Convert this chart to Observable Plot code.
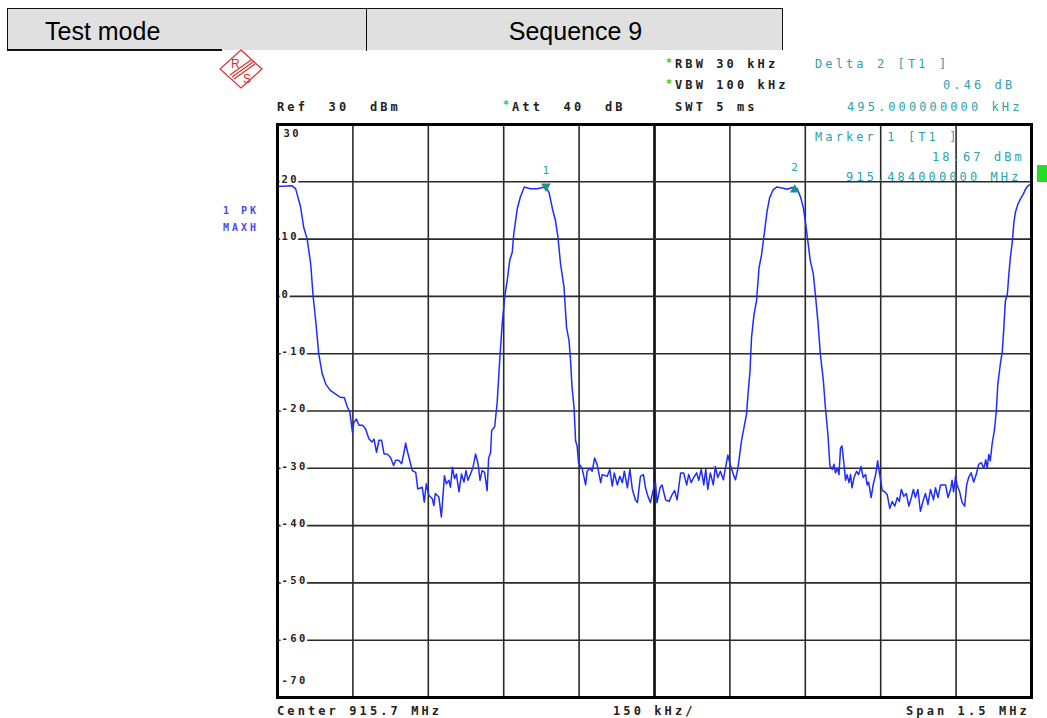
<!DOCTYPE html>
<html>
<head>
<meta charset="utf-8">
<script src="https://cdn.jsdelivr.net/npm/d3@7"></script>
<script src="https://cdn.jsdelivr.net/npm/@observablehq/plot@0.6"></script>
<style>
  html, body { margin: 0; padding: 0; background: #fff; }
  #page { position: relative; width: 1047px; height: 718px; overflow: hidden; }
  #chart { position: absolute; left: 0; top: 0; }
  .chart text { letter-spacing: 2.4px; }
  .mono { position: absolute; font-family: "DejaVu Sans Mono", "Liberation Mono", monospace; font-weight: bold;
          font-size: 12px; line-height: 12px; letter-spacing: 3.1px; white-space: pre; color: #222; }
  .teal { color: #30a2a8; font-weight: normal; }
  .star { color: #22cc22; font-size: 10px; }
  .side { color: #4a4ae8; font-size: 10px; letter-spacing: 3px; }
  #hdr { position: absolute; left: 7px; top: 8px; width: 776px; height: 42px; background: #e0e0e0;
         border-top: 1.5px solid #111; border-left: 1.5px solid #111; border-right: 1.5px solid #111; box-sizing: border-box; }
  #hdr .c { position: absolute; top: 0; height: 41px; font-family: "Liberation Sans", Arial, sans-serif; font-size: 25px;
            line-height: 44px; color: #000; }
  #hdrline { position: absolute; left: 7px; top: 49px; width: 215px; height: 0; border-top: 2px solid #111; }
  #hdrdiv { position: absolute; left: 366px; top: 8px; width: 0; height: 43px; border-left: 1.5px solid #111; }
  #gbox { position: absolute; left: 1037px; top: 165px; width: 12px; height: 17px; background: #22dd22; }
</style>
</head>
<body>
<div id="page">
  <div id="chart"></div>
  <div id="hdr">
    <div class="c" style="left:37px;">Test mode</div>
    <div class="c" style="left:359px;width:417px;text-align:center;">Sequence 9</div>
  </div>
  <div id="hdrline"></div>
  <div id="hdrdiv"></div>
  <svg style="position:absolute;left:218px;top:48px" width="46" height="42" viewBox="0 0 46 42">
    <g stroke="#d83030" fill="none" stroke-width="1.2">
      <polygon points="23,2 44,21 23,40 2,21"/>
      <line x1="12" y1="27" x2="33" y2="12"/>
      <line x1="14" y1="29" x2="35" y2="14"/>
      <line x1="16" y1="31" x2="37" y2="16"/>
    </g>
    <text x="13" y="20" font-family="Liberation Sans" font-size="12" fill="#d83030">R</text>
    <text x="25" y="35" font-family="Liberation Sans" font-size="12" fill="#d83030">S</text>
  </svg>

  <div class="mono" style="left:277px;top:101px;">Ref  30  dBm</div>
  <div class="mono star" style="left:503px;top:99px;">*</div>
  <div class="mono" style="left:512px;top:101px;">Att  40  dB</div>

  <div class="mono star" style="left:666px;top:57px;">*</div>
  <div class="mono" style="left:675px;top:58px;">RBW 30 kHz</div>
  <div class="mono star" style="left:666px;top:78px;">*</div>
  <div class="mono" style="left:675px;top:79px;">VBW 100 kHz</div>
  <div class="mono" style="left:675px;top:101px;">SWT 5 ms</div>

  <div class="mono teal" style="left:815px;top:58px;">Delta 2 [T1 ]</div>
  <div class="mono teal" style="left:943px;top:79px;">0.46 dB</div>
  <div class="mono teal" style="left:847px;top:101px;">495.000000000 kHz</div>

  <div class="mono teal" style="left:815px;top:131px;">Marker 1 [T1 ]</div>
  <div class="mono teal" style="left:932px;top:151px;">18.67 dBm</div>
  <div class="mono teal" style="left:846px;top:171px;">915.484000000 MHz</div>
  <div id="gbox"></div>

  <div class="mono side" style="left:223px;top:205px;">1 PK</div>
  <div class="mono side" style="left:223px;top:222px;">MAXH</div>

  <div class="mono" style="left:277px;top:705px;">Center 915.7 MHz</div>
  <div class="mono" style="left:613px;top:705px;">150 kHz/</div>
  <div class="mono" style="left:906px;top:705px;">Span 1.5 MHz</div>
</div>
<script>
// Sweep settings
const startMHz = 914.95;
const spanMHz = 1.5;
const divKHz = 150;

// Trace 1 (PK, MAXH): frequency offset from start (kHz) and level (dBm)
const offsetKHz = [0, 29, 36, 46, 52, 59, 66, 71, 76, 82, 89, 96, 105, 115, 125, 133, 139, 144, 149, 152,
  157, 162, 169, 175, 182, 188, 192, 197, 202, 207, 212, 218, 225, 231, 235, 241, 247, 251, 255, 258,
  263, 268, 275, 279, 288, 292, 296, 301, 308, 311, 314, 321, 326, 330, 332, 336, 341, 344, 348, 352,
  356, 361, 366, 371, 375, 379, 384, 389, 394, 399, 403, 407, 412, 417, 420, 424, 426, 432, 437, 442,
  447, 452, 457, 462, 467, 470, 477, 483, 491, 503, 517, 527, 533, 540, 547, 553, 558, 563, 570, 575,
  580, 583, 586, 590, 593, 596, 599, 606, 613, 616, 621, 626, 631, 636, 643, 646, 656, 661, 666, 670,
  676, 681, 686, 690, 696, 701, 706, 712, 716, 722, 728, 732, 737, 742, 747, 752, 755, 761, 765, 772,
  779, 785, 790, 795, 802, 808, 814, 818, 823, 828, 834, 838, 843, 848, 852, 856, 861, 867, 871, 876,
  881, 887, 891, 896, 901, 907, 911, 916, 923, 928, 933, 936, 940, 943, 948, 953, 958, 963, 969, 974,
  979, 986, 993, 1004, 1014, 1024, 1034, 1041, 1046, 1050, 1055, 1060, 1066, 1070, 1075, 1080, 1086, 1090, 1095, 1099,
  1104, 1107, 1110, 1114, 1117, 1120, 1123, 1127, 1130, 1133, 1137, 1140, 1143, 1147, 1152, 1156, 1161, 1165, 1170, 1173,
  1176, 1181, 1185, 1190, 1194, 1196, 1200, 1203, 1208, 1213, 1218, 1223, 1228, 1233, 1237, 1241, 1246, 1251, 1256, 1261,
  1265, 1269, 1274, 1279, 1285, 1289, 1294, 1299, 1305, 1309, 1314, 1319, 1329, 1334, 1339, 1342, 1345, 1349, 1352, 1357,
  1362, 1367, 1371, 1375, 1380, 1385, 1390, 1395, 1400, 1405, 1409, 1412, 1415, 1418, 1422, 1426, 1430, 1433, 1438, 1442,
  1445, 1448, 1452, 1455, 1458, 1462, 1465, 1468, 1473, 1478, 1484, 1488, 1493, 1497];
const levelDbm = [19.2, 19.3, 18.8, 15.6, 12.1, 10.0, 5.7, -0.1, -4.2, -10.0, -13.5, -15.3, -16.4, -17.0, -17.6, -17.7, -19.3, -20.2, -23.7, -22.0,
  -21.4, -22.5, -22.5, -23.1, -24.9, -25.4, -24.9, -27.2, -25.1, -25.1, -27.5, -27.5, -28.1, -29.5, -28.6, -28.6, -29.2, -27.5, -25.6, -26.9,
  -28.6, -30.4, -30.7, -33.6, -33.3, -35.9, -32.7, -34.7, -35.3, -36.5, -34.4, -35.0, -38.5, -33.9, -31.3, -32.7, -32.1, -33.3, -29.8, -31.8,
  -31.0, -34.1, -31.0, -32.4, -30.4, -32.1, -31.0, -29.8, -27.5, -29.2, -32.1, -30.4, -30.7, -33.9, -28.3, -27.2, -23.4, -22.8, -18.5, -11.2,
  -4.8, -0.1, 2.8, 6.3, 7.7, 10.9, 15.3, 17.3, 19.1, 18.8, 18.8, 19.0, 19.1, 18.2, 15.3, 13.2, 10.3, 5.7, 1.6, -5.4,
  -7.7, -11.2, -15.9, -19.4, -25.2, -26.1, -29.1, -30.0, -32.9, -30.5, -30.0, -30.5, -28.2, -29.4, -32.5, -31.1, -31.4, -30.2, -33.1, -30.8,
  -32.9, -31.4, -32.5, -30.5, -33.4, -30.2, -33.7, -35.5, -36.0, -31.4, -31.1, -33.4, -34.9, -36.0, -33.9, -32.5, -36.0, -33.4, -32.9, -35.5,
  -35.8, -34.6, -33.9, -35.5, -30.8, -30.8, -32.9, -31.1, -32.5, -31.6, -30.8, -32.1, -30.2, -32.9, -30.2, -33.7, -30.8, -32.9, -29.7, -31.6,
  -30.5, -32.0, -30.0, -27.7, -29.5, -31.1, -32.0, -30.0, -25.2, -22.9, -20.6, -17.1, -13.0, -7.2, -3.1, -0.8, 5.0, 7.3, 11.4, 14.9,
  17.2, 18.6, 19.1, 18.9, 18.7, 19.0, 18.8, 17.2, 15.5, 13.2, 9.7, 6.2, 3.9, 0.4, -4.3, -10.1, -14.8, -19.4, -24.1, -29.6,
  -30.2, -29.3, -30.8, -30.0, -31.1, -26.5, -26.1, -29.3, -32.1, -31.1, -32.5, -31.1, -33.4, -31.6, -30.5, -31.1, -29.7, -31.6, -31.1, -32.9,
  -32.4, -35.1, -32.9, -31.1, -28.7, -30.0, -32.1, -33.9, -34.1, -34.6, -37.0, -35.8, -36.6, -35.1, -35.8, -33.7, -34.9, -34.4, -36.6, -35.1,
  -33.7, -35.1, -33.7, -37.5, -35.5, -34.4, -36.3, -33.7, -35.5, -33.4, -35.1, -32.9, -32.9, -35.1, -33.7, -32.1, -34.1, -31.4, -32.9, -34.1,
  -36.0, -36.6, -32.9, -31.6, -30.8, -32.4, -31.1, -29.3, -29.0, -30.0, -28.5, -30.0, -27.6, -28.7, -25.5, -23.5, -20.0, -15.3, -11.8, -9.5,
  -5.4, -0.8, 0.4, 3.9, 6.8, 9.7, 12.9, 14.7, 16.1, 17.0, 17.9, 18.7, 19.3, 19.5];

// Y grid labels (dBm)
const levelTicks = [30, 20, 10, 0, -10, -20, -30, -40, -50, -60, -70];

// Markers
const marker1FreqMHz = 915.484;
const marker1Level = 18.67;
const deltaKHz = 495;
const deltaDb = 0.46;

const trace = offsetKHz.map((k, i) => ({f: startMHz + k / 1000, level: levelDbm[i]}));
const gridFreqs = d3.range(0, 11).map(i => startMHz + i * divKHz / 1000);
const centerFreq = startMHz + spanMHz / 2;
const markers = [
  {id: "1", f: marker1FreqMHz, level: marker1Level},
  {id: "2", f: marker1FreqMHz + deltaKHz / 1000, level: marker1Level + deltaDb}
];

const mono = "DejaVu Sans Mono, Liberation Mono, monospace";
const chart = Plot.plot({
  width: 1047,
  height: 718,
  marginLeft: 277,
  marginRight: 16,
  marginTop: 124,
  marginBottom: 21,
  className: "chart",
  style: {background: "transparent", overflow: "visible"},
  x: {domain: [startMHz, startMHz + spanMHz], axis: null},
  y: {domain: [-70, 30], axis: null},
  marks: [
    Plot.ruleX(gridFreqs, {x: d => d, stroke: "#2a2a2a", strokeWidth: 1.6}),
    Plot.ruleX([centerFreq], {x: d => d, stroke: "#111", strokeWidth: 2.6}),
    Plot.ruleY(levelTicks, {y: d => d, stroke: "#2a2a2a", strokeWidth: 1.6}),
    Plot.text(levelTicks.filter(d => d !== 30 && d !== -70), {
      x: () => startMHz, y: d => d, text: d => String(d), textAnchor: "start", dx: 4, dy: -2,
      fontFamily: mono, fontWeight: "bold", fontSize: 10.5, fill: "#2b2218", stroke: "white", strokeWidth: 5
    }),
    Plot.text([30], {
      x: () => startMHz, y: d => d, text: d => String(d), textAnchor: "start", dx: 6, dy: 9,
      fontFamily: mono, fontWeight: "bold", fontSize: 10.5, fill: "#2b2218"
    }),
    Plot.text([-70], {
      x: () => startMHz, y: d => d, text: d => String(d), textAnchor: "start", dx: 4, dy: -17,
      fontFamily: mono, fontWeight: "bold", fontSize: 10.5, fill: "#2b2218"
    }),
    Plot.line(trace, {x: "f", y: "level", stroke: "#1f2cff", strokeWidth: 1.5}),
    Plot.dot(markers.filter(d => d.id === "1"), {x: "f", y: "level", symbol: "triangle", rotate: 180, r: 3.6, fill: "#1a9488", dy: -3}),
    Plot.dot(markers.filter(d => d.id === "2"), {x: "f", y: "level", symbol: "triangle", r: 3.6, fill: "#1a9488", dy: 3}),
    Plot.text(markers, {x: "f", y: "level", text: "id", dy: -19, dx: 1, fontFamily: mono, fontSize: 11, fill: "#30a2a8"}),
    Plot.frame({stroke: "#000", strokeWidth: 3})
  ]
});
document.getElementById("chart").appendChild(chart);
</script>
</body>
</html>
